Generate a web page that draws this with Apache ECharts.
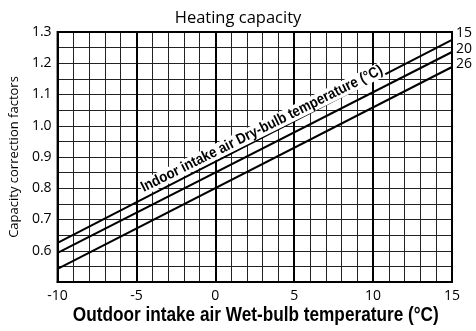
<!DOCTYPE html>
<html>
<head>
<meta charset="utf-8">
<script src="https://cdn.jsdelivr.net/npm/echarts@6/dist/echarts.min.js"></script>
<style>
  html, body { margin: 0; padding: 0; background: #fff; }
  #chart { width: 476px; height: 331px; }
</style>
</head>
<body>
<div id="chart"></div>
<script>
// Outdoor wet-bulb temperature (°C) at the two ends of each line
const wetBulb = [-10, 15];
// Indoor dry-bulb temperature curves (°C)
const indoorTemps = ['15', '20', '26'];
// Capacity correction factor at each end point
const factor15 = [0.625, 1.275];
const factor20 = [0.593, 1.236];
const factor26 = [0.542, 1.188];

const xTicks = [-10, -5, 0, 5, 10, 15];
const yTicks = [0.6, 0.7, 0.8, 0.9, 1.0, 1.1, 1.2, 1.3];

const labelFont = '"Open Sans", "Noto Sans", sans-serif';
const boldFont = '"Liberation Sans", Arial, sans-serif';

const chart = echarts.init(document.getElementById('chart'), null, { renderer: 'canvas' });

function pairs(ys) { return wetBulb.map((x, i) => [x, ys[i]]); }

const endOffsets = [[0, -7], [0, -3], [0, -3]];

const series = [factor15, factor20, factor26].map((ys, i) => ({
  name: indoorTemps[i],
  type: 'line',
  data: pairs(ys),
  symbol: 'none',
  silent: true,
  z: 5,
  lineStyle: { color: '#000', width: 2 },
  endLabel: {
    show: true,
    formatter: '{a}',
    color: '#000',
    fontFamily: labelFont,
    fontSize: 14,
    distance: 4,
    offset: endOffsets[i]
  }
}));

chart.setOption({
  animation: false,
  backgroundColor: '#fff',
  title: {
    text: 'Heating capacity',
    left: 'center',
    top: 5,
    textStyle: { fontFamily: labelFont, fontWeight: 'normal', fontSize: 16.5, color: '#000' }
  },
  grid: { left: 53, right: 24, top: 32, bottom: 49, show: true, borderColor: '#000', borderWidth: 2, z: 3 },
  xAxis: {
    type: 'value',
    min: xTicks[0],
    max: xTicks[xTicks.length - 1],
    interval: 5,
    axisLine: { show: true, lineStyle: { color: '#000', width: 2 } },
    axisTick: { show: false },
    axisLabel: { color: '#000', fontFamily: labelFont, fontSize: 14, margin: 7 },
    splitLine: { show: true, lineStyle: { color: '#000', width: 2 } },
    minorTick: { show: false, splitNumber: 5 },
    minorSplitLine: { show: true, lineStyle: { color: '#222', width: 1 } }
  },
  yAxis: {
    type: 'value',
    min: 0.5,
    max: yTicks[yTicks.length - 1],
    interval: 0.1,
    name: 'Capacity correction factors',
    nameLocation: 'middle',
    nameGap: 36,
    nameTextStyle: { fontFamily: labelFont, fontSize: 13, color: '#000' },
    axisLine: { show: true, lineStyle: { color: '#000', width: 2 } },
    axisTick: { show: false },
    axisLabel: {
      color: '#000', fontFamily: labelFont, fontSize: 14, margin: 6,
      formatter: v => (yTicks.some(t => Math.abs(t - v) < 1e-9) ? v.toFixed(1) : '')
    },
    splitLine: { show: true, lineStyle: { color: '#222', width: 1 } },
    minorTick: { show: false, splitNumber: 2 },
    minorSplitLine: { show: true, lineStyle: { color: '#222', width: 1 } }
  },
  series: series
});

// Sloped caption above the curves, placed in data coordinates
const anchor = chart.convertToPixel({ gridIndex: 0 }, [2.95, 0.99]);
const p0 = chart.convertToPixel({ gridIndex: 0 }, [wetBulb[0], factor15[0]]);
const p1 = chart.convertToPixel({ gridIndex: 0 }, [wetBulb[1], factor15[1]]);
const angle = Math.atan2(p0[1] - p1[1], p1[0] - p0[0]);

// Condensed bold x-axis title centred under the plot
const axisMid = chart.convertToPixel({ gridIndex: 0 }, [(xTicks[0] + xTicks[xTicks.length - 1]) / 2, 0.5]);

chart.setOption({
  graphic: [{
    type: 'text',
    x: anchor[0],
    y: anchor[1],
    rotation: angle - 0.015,
    scaleX: 0.88,
    z: 10,
    style: {
      text: 'Indoor intake air Dry-bulb temperature (°C)',
      fontFamily: boldFont,
      fontWeight: 'bold',
      fontSize: 15,
      fill: '#000',
      align: 'center',
      verticalAlign: 'middle',
      backgroundColor: '#fff',
      padding: [0, 1, 0, 1]
    }
  }, {
    type: 'text',
    x: axisMid[0] + 1,
    y: axisMid[1] + 33,
    scaleX: 0.86,
    z: 10,
    style: {
      text: 'Outdoor intake air Wet-bulb temperature (°C)',
      fontFamily: boldFont,
      fontWeight: 'bold',
      fontSize: 20,
      fill: '#000',
      align: 'center',
      verticalAlign: 'middle'
    }
  }]
});
</script>
</body>
</html>
